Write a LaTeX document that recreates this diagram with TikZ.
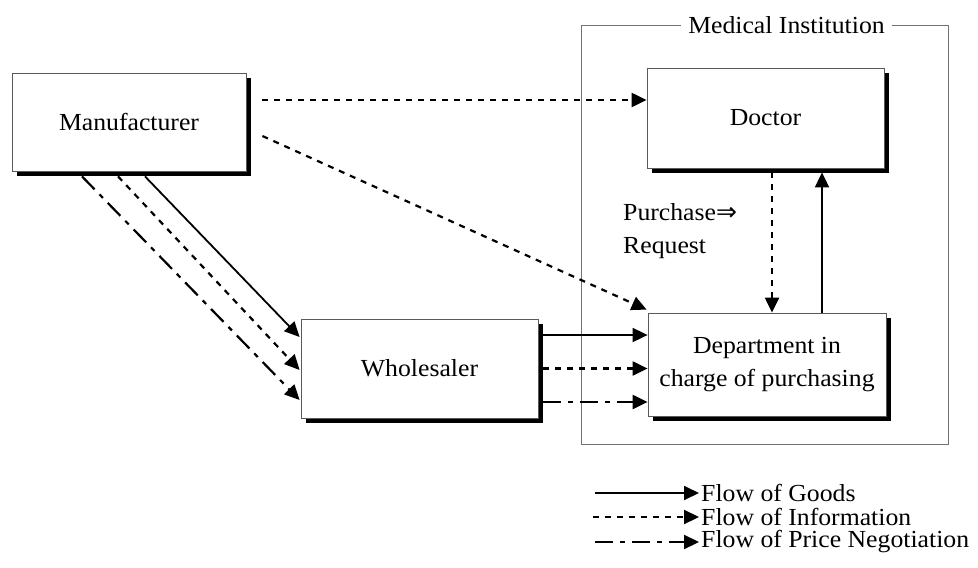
\documentclass[tikz,border=0pt]{standalone}
\usepackage{fontspec}
\setmainfont{Liberation Serif}[FakeStretch=1.05]
\newfontfamily\symfont{DejaVu Sans}
\usetikzlibrary{arrows.meta,shadows,calc}
\begin{document}
\begin{tikzpicture}[x=1pt,y=-1pt,
  font=\fontsize{24.5}{33}\selectfont,
  box/.style={draw=black!65,line width=0.8pt,fill=white,
    drop shadow={shadow xshift=5pt,shadow yshift=-5pt,fill=black,opacity=1},
    align=center,inner sep=0pt},
  flow/.style={line width=1.8pt,-{Triangle[length=15pt,width=14pt]}},
  goods/.style={flow},
  info/.style={flow,line width=2.2pt,dash pattern=on 6pt off 6pt},
  price/.style={flow,line width=2.2pt,dash pattern=on 18pt off 7pt on 5pt off 7pt},
  framebox/.style={draw=black!55,line width=0.9pt,inner sep=0pt}]
\useasboundingbox (0,0) rectangle (978,568);

% Medical institution frame
\node[framebox,minimum width=367pt,minimum height=419pt] (inst) at (764.5,234.5) {};
\node[fill=white,inner xsep=7pt,inner ysep=1pt] (insttitle) at (786.5,25) {Medical Institution};

% boxes
\node[box,minimum width=234pt,minimum height=98pt] (man) at (129,122) {Manufacturer};
\node[box,minimum width=237pt,minimum height=100pt] (doc) at (765.5,118) {Doctor};
\node[box,minimum width=237pt,minimum height=99pt] (who) at (419.5,368.5) {Wholesaler};
\node[box,minimum width=238pt,minimum height=103pt] (dep) at (767,364.5) {Department in\\charge of purchasing};

\node[align=left,anchor=north west,inner sep=0pt] (req) at (623,203) {Purchase{\symfont\fontsize{25}{26}\selectfont ⇒}\\Request};

% manufacturer -> doctor / department
\draw[info] ([shift={(16,-22)}]man.east) -- ([shift={(0,-18)}]doc.west);
\draw[info] ([shift={(16,14)}]man.east) -- ([shift={(-1,-3)}]dep.north west);

% manufacturer -> wholesaler
\draw[goods] ([shift={(16,5)}]man.south) -- ([shift={(-1,-31.5)}]who.west);
\draw[info] ([shift={(-11,5)}]man.south) -- ([shift={(-1,1.5)}]who.west);
\draw[price] ([shift={(-47,5)}]man.south) -- ([shift={(-1,31.5)}]who.west);

% wholesaler -> department
\draw[goods] ([shift={(5,-33.5)}]who.east) -- ([shift={(0,-33.5)}]who.east -| dep.west);
\draw[info] ([shift={(5,0)}]who.east) -- ([shift={(0,0)}]who.east -| dep.west);
\draw[price] ([shift={(5,33.5)}]who.east) -- ([shift={(0,33.5)}]who.east -| dep.west);

% doctor <-> department
\draw[info] ([shift={(6.5,4)}]doc.south) -- ([shift={(5,0)}]dep.north);
\draw[goods] ([shift={(55,0)}]dep.north) -- ([shift={(56.5,4)}]doc.south);

% legend
\coordinate (g0) at (595,493); \coordinate (g1) at (699,493);
\coordinate (i0) at (593,517); \coordinate (i1) at (699,517);
\coordinate (p0) at (595,542); \coordinate (p1) at (699,542);
\draw[goods] (g0) -- (g1);
\draw[info] (i0) -- (i1);
\draw[price] (p0) -- (p1);
\node[anchor=west,inner sep=0pt] (lg) at ([xshift=2pt]g1) {Flow of Goods};
\node[anchor=west,inner sep=0pt] (li) at ([xshift=2pt]i1) {Flow of Information};
\node[anchor=west,inner sep=0pt] (lp) at ([xshift=2pt]p1) {Flow of Price Negotiation};
\end{tikzpicture}
\end{document}
